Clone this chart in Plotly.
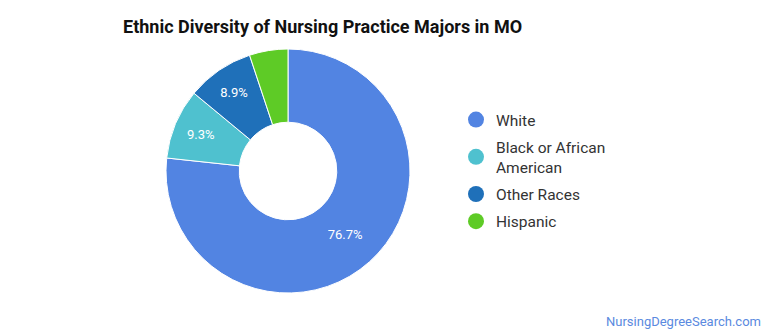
import plotly.graph_objects as go

labels = ["White", "Black or African American", "Other Races", "Hispanic"]
legend_labels = ["White", "Black or African<br>American", "Other Races", "Hispanic"]
values = [76.7, 9.3, 8.9, 5.1]
slice_text = ["76.7%", "9.3%", "8.9%", ""]
colors = ["#5284e2", "#4fc1cf", "#1f70b9", "#5ecb26"]

W, H = 770, 335
fig = go.Figure()
fig.add_trace(go.Pie(
    labels=labels, values=values, text=slice_text,
    textinfo="text", textposition="inside", insidetextorientation="horizontal",
    textfont=dict(color="white", size=13, family="Roboto"),
    marker=dict(colors=colors, line=dict(color="white", width=1)),
    hole=0.4, sort=False, direction="clockwise", rotation=0,
    showlegend=False, hoverinfo="label+percent",
    domain=dict(x=[166 / W, 410 / W], y=[1 - 293 / H, 1 - 49 / H]),
))
for i, (lab, col) in enumerate(zip(legend_labels, colors)):
    fig.add_trace(go.Scatter(
        x=[None], y=[None], mode="markers", name=lab, legendgroup=f"g{i}",
        marker=dict(color=col, size=16, symbol="circle"),
        showlegend=True,
    ))

fig.update_layout(
    width=W, height=H,
    margin=dict(l=0, r=0, t=0, b=0),
    paper_bgcolor="white", plot_bgcolor="white",
    font=dict(family="Roboto", color="#333333"),
    xaxis=dict(visible=False), yaxis=dict(visible=False),
    title=dict(text="<b>Ethnic Diversity of Nursing Practice Majors in MO</b>",
               x=123 / W, xanchor="left", xref="paper",
               y=1 - 27 / H, yanchor="middle", yref="paper",
               font=dict(size=18, color="#111111", family="Roboto")),
    legend=dict(x=456 / W, xanchor="left", y=1 - 103 / H, yanchor="top",
                font=dict(size=15.5, color="#333333", family="Roboto"),
                itemsizing="trace", tracegroupgap=4, bgcolor="rgba(0,0,0,0)"),
    annotations=[dict(text="NursingDegreeSearch.com", x=1 - 7 / W, y=1 - 321 / H,
                      xref="paper", yref="paper", xanchor="right", yanchor="middle",
                      showarrow=False, font=dict(size=13, color="#5a8ae0", family="Roboto"))],
)
fig.write_html("out.html")
